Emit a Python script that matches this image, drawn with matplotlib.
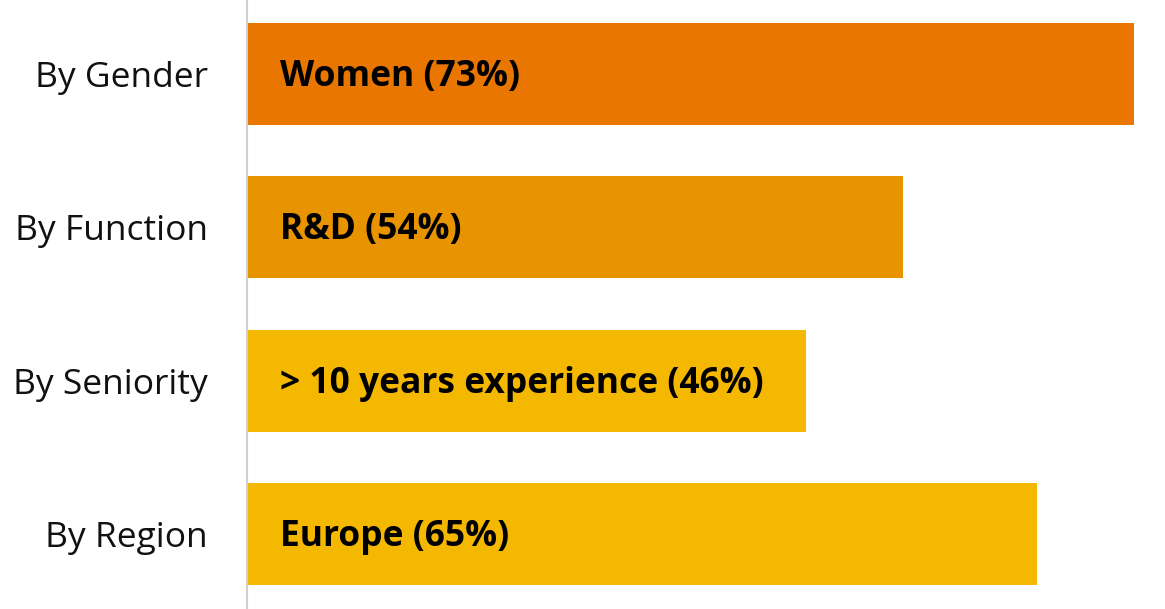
import matplotlib
matplotlib.use('Agg')
import matplotlib.pyplot as plt

categories = ['By Gender', 'By Function', 'By Seniority', 'By Region']
bar_labels = ['Women', 'R&D', '> 10 years experience', 'Europe']
values = [73, 54, 46, 65]
colors = ['#E87600', '#E89300', '#F5B800', '#F5B800']

plt.rcParams['font.family'] = ['Open Sans', 'DejaVu Sans']

fig = plt.figure(figsize=(11.65, 6.09), dpi=100)
ax = fig.add_axes([247 / 1165, 0, 1 - 247 / 1165, 1])

ypos = list(range(len(categories)))
ax.barh(ypos, values, height=0.665, color=colors)

# labels sit a touch below bar centre, like the original
for y, lab, v in zip(ypos, bar_labels, values):
    ax.text(2.75, y + 0.02, '%s (%d%%)' % (lab, v), va='center', ha='left',
            fontsize=25.5, fontweight='bold', color='black')

ax.set_ylim(3.49, -0.483)
ax.set_xlim(0, 75.55)
ax.set_yticks(ypos)
ax.set_yticklabels(categories, fontsize=25.5, color='#111111')
ax.tick_params(axis='y', length=0, pad=28)
ax.set_xticks([])
for s in ['top', 'right', 'bottom']:
    ax.spines[s].set_visible(False)
ax.spines['left'].set_color('#D0D0D0')
ax.spines['left'].set_linewidth(1.5)

fig.savefig('out.png', dpi=100)
